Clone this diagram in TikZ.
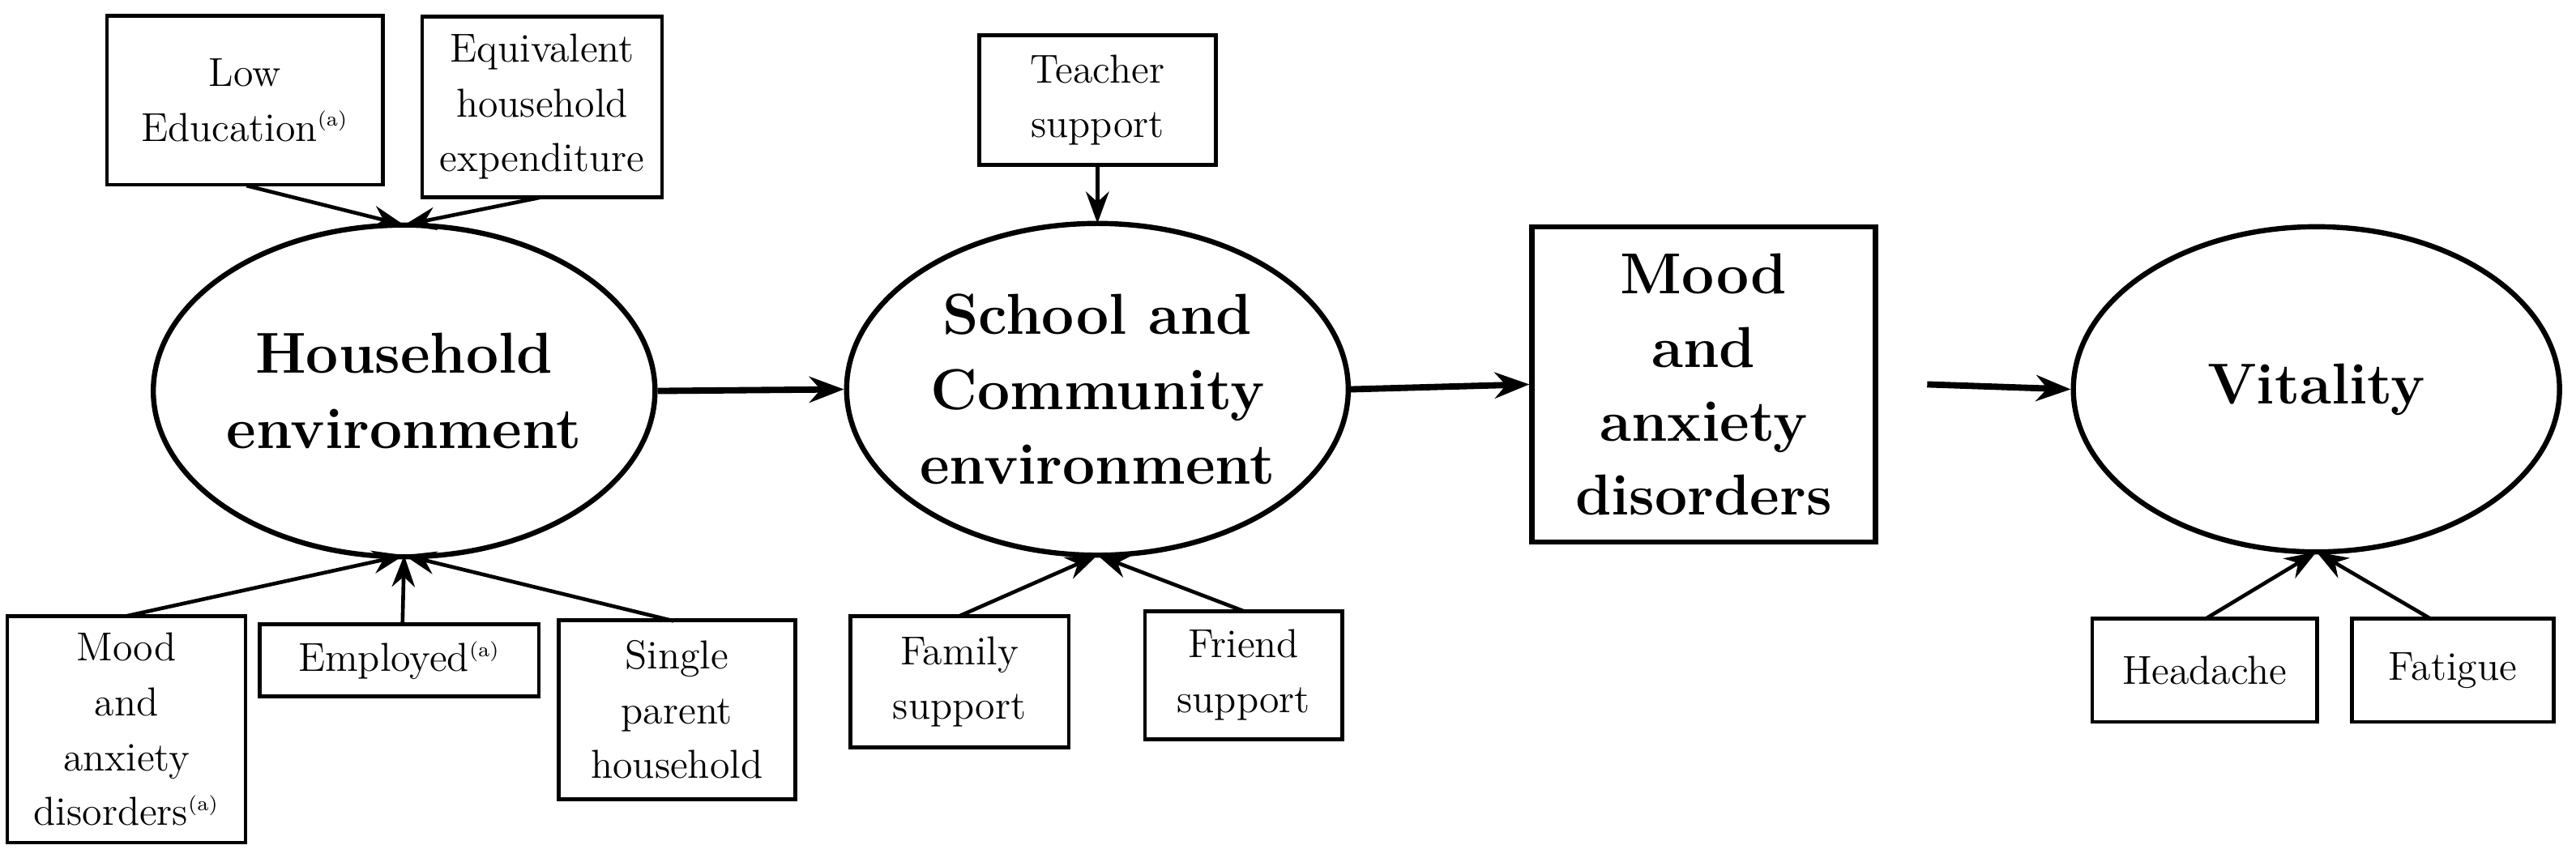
\documentclass[tikz,border=0pt]{standalone}
\usetikzlibrary{shapes.geometric,arrows.meta}
\begin{document}
\begin{tikzpicture}[x=0.02cm,y=-0.02cm,
  box/.style={draw,line width=1.3pt,rectangle,align=center,font=\fontsize{14}{19}\selectfont,inner sep=2pt},
  ell/.style={draw,line width=1.8pt,ellipse,align=center,font=\fontsize{20}{26}\selectfont\bfseries,inner sep=0pt},
  arr/.style={line width=1.3pt,-{Stealth[length=11pt,width=8pt]}},
  big/.style={line width=2.2pt,-{Stealth[length=12pt,width=9pt]}}]
\useasboundingbox (0,0) rectangle (1568,522);
% household
\node[ell,minimum width=6cm,minimum height=4.04cm] (he) at (246,238) {Household\\environment};
\node[box,minimum width=3.36cm,minimum height=2.06cm] (low) at (149,61) {Low\\Education\textsuperscript{\scriptsize(a)}};
\node[box,minimum width=2.92cm,minimum height=2.2cm] (exp) at (330,65) {Equivalent\\household\\expenditure};
\node[box,minimum width=2.9cm,minimum height=2.76cm] (mad) at (77,444) {Mood\\and\\anxiety\\disorders\textsuperscript{\scriptsize(a)}};
\node[box,minimum width=3.4cm,minimum height=0.88cm] (emp) at (243,402) {Employed\textsuperscript{\scriptsize(a)}};
\node[box,minimum width=2.88cm,minimum height=2.18cm] (sph) at (412,432) {Single\\parent\\household};
\coordinate (hetop) at (246,137);
\coordinate (hebot) at (246,338);
\draw[arr] (150,113) -- (hetop);
\draw[arr] (330,120) -- (hetop);
\draw[arr] (77,375) -- (hebot);
\draw[arr] (245,380) -- (hebot);
\draw[arr] (410,378) -- (hebot);
% school
\node[ell,minimum width=5.96cm,minimum height=4.04cm] (sc) at (668,237) {School and\\Community\\environment};
\node[box,minimum width=2.88cm,minimum height=1.58cm] (tea) at (668,61) {Teacher\\support};
\node[box,minimum width=2.66cm,minimum height=1.6cm] (fam) at (584,415) {Family\\support};
\node[box,minimum width=2.4cm,minimum height=1.56cm] (fri) at (757,411) {Friend\\support};
\coordinate (sctop) at (668,136);
\coordinate (scbot) at (668,338);
\draw[arr] (tea) -- (sctop);
\draw[arr] (584,375) -- (scbot);
\draw[arr] (757,372) -- (scbot);
% mood
\node[box,line width=1.8pt,minimum width=4.18cm,minimum height=3.84cm,font=\fontsize{20}{25.5}\selectfont\bfseries] (mood) at (1037,234) {Mood\\and\\anxiety\\disorders};
% vitality
\node[ell,minimum width=5.92cm,minimum height=3.96cm] (vit) at (1410,237) {Vitality};
\node[box,minimum width=2.74cm,minimum height=1.26cm] (hea) at (1342,408) {Headache};
\node[box,minimum width=2.46cm,minimum height=1.26cm] (fat) at (1493,408) {Fatigue};
\coordinate (vbot) at (1410,336);
\draw[arr] (1342,377) -- (vbot);
\draw[arr] (1480,377) -- (vbot);
% main chain
\draw[big] (he.east) -- (sc.west);
\draw[big] (sc.east) -- (mood.west);
\draw[big] ([xshift=0.6cm]mood.east) -- (vit.west);
\end{tikzpicture}
\end{document}
